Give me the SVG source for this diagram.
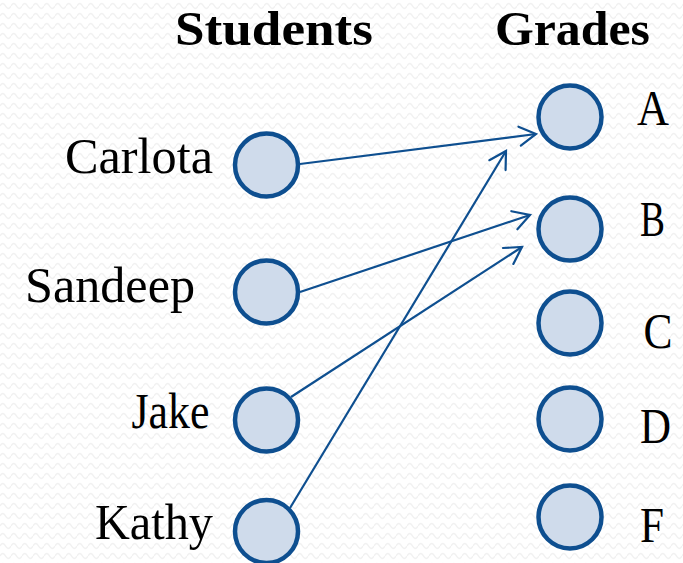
<svg xmlns="http://www.w3.org/2000/svg" width="683" height="563" viewBox="0 0 683 563">
  <defs>
    <pattern id="bg" width="11" height="10" patternUnits="userSpaceOnUse">
      <rect width="11" height="10" fill="#ffffff"/>
      <path d="M0,6 Q2.75,1 5.5,6 T11,6" fill="none" stroke="#f1f1f1" stroke-width="1.4"/>
    </pattern>
    <marker id="arrow" viewBox="-20 -12 24 24" refX="0" refY="0" markerWidth="24" markerHeight="24" markerUnits="userSpaceOnUse" orient="auto">
      <path d="M-16.5,-9.5 L0,0 L-16.5,9.5" fill="none" stroke="#0e4f90" stroke-width="2.2" stroke-linecap="round" stroke-linejoin="miter"/>
    </marker>
  </defs>
  <style>
    .node { fill: #cfdbeb; stroke: #0e4f90; stroke-width: 4.5; }
    .edge { stroke: #0e4f90; stroke-width: 2.2; fill: none; marker-end: url(#arrow); }
    .title { font-family: "Liberation Serif", "DejaVu Serif", serif; font-weight: bold; font-size: 48px; fill: #000; }
    .label { font-family: "Liberation Serif", "DejaVu Serif", serif; font-size: 50px; fill: #000; }
  </style>
  <rect width="683" height="563" fill="url(#bg)"/>

  <text class="title" x="175" y="45" textLength="198" lengthAdjust="spacingAndGlyphs">Students</text>
  <text class="title" x="495" y="45" textLength="155" lengthAdjust="spacingAndGlyphs">Grades</text>

  <g id="connectors">
    <line class="edge" x1="300" y1="164" x2="536" y2="134"/>
    <line class="edge" x1="300" y1="292" x2="530" y2="215"/>
    <line class="edge" x1="291" y1="397" x2="522" y2="247"/>
    <line class="edge" x1="290" y1="508" x2="506" y2="151"/>
  </g>

  <g id="carlota">
    <circle class="node" cx="266.5" cy="165" r="31.5"/>
    <text class="label" x="65" y="173" textLength="148" lengthAdjust="spacingAndGlyphs">Carlota</text>
  </g>
  <g id="sandeep">
    <circle class="node" cx="266.5" cy="292" r="31.5"/>
    <text class="label" x="25" y="302" textLength="170" lengthAdjust="spacingAndGlyphs">Sandeep</text>
  </g>
  <g id="jake">
    <circle class="node" cx="266.5" cy="420" r="31.5"/>
    <text class="label" x="131.5" y="428" textLength="78" lengthAdjust="spacingAndGlyphs">Jake</text>
  </g>
  <g id="kathy">
    <circle class="node" cx="266.5" cy="531.5" r="31.5"/>
    <text class="label" x="95" y="538.5" textLength="118" lengthAdjust="spacingAndGlyphs">Kathy</text>
  </g>

  <g id="grade-a">
    <circle class="node" cx="570" cy="117" r="31.5"/>
    <text class="label" x="637" y="125" textLength="32" lengthAdjust="spacingAndGlyphs">A</text>
  </g>
  <g id="grade-b">
    <circle class="node" cx="570" cy="229" r="31.5"/>
    <text class="label" x="640" y="236" textLength="25" lengthAdjust="spacingAndGlyphs">B</text>
  </g>
  <g id="grade-c">
    <circle class="node" cx="570" cy="323" r="31.5"/>
    <text class="label" x="643.5" y="348" textLength="29" lengthAdjust="spacingAndGlyphs">C</text>
  </g>
  <g id="grade-d">
    <circle class="node" cx="570" cy="419" r="31.5"/>
    <text class="label" x="640" y="443" textLength="31" lengthAdjust="spacingAndGlyphs">D</text>
  </g>
  <g id="grade-f">
    <circle class="node" cx="570" cy="517" r="31.5"/>
    <text class="label" x="640" y="541.5" textLength="24" lengthAdjust="spacingAndGlyphs">F</text>
  </g>
</svg>
